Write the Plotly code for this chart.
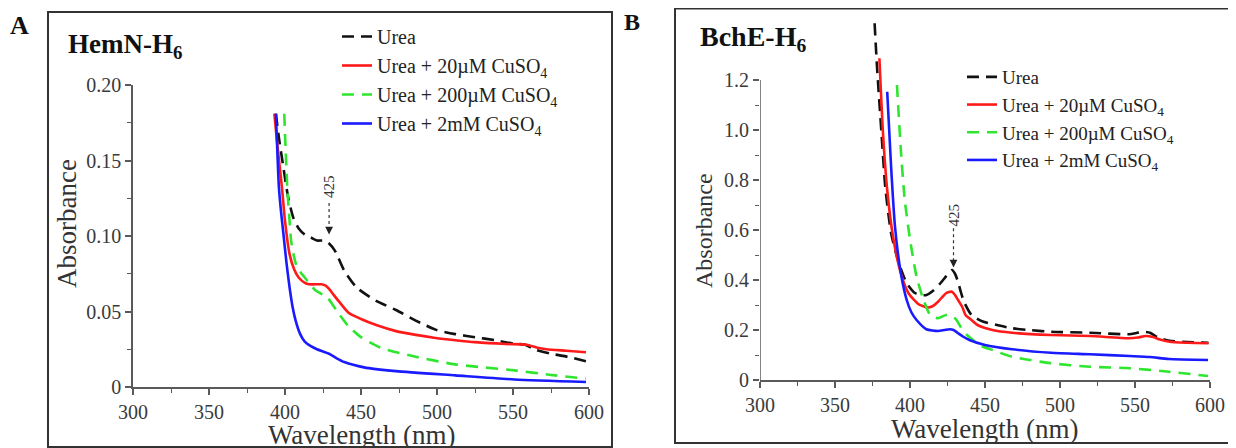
import plotly.graph_objects as go

# ---------------- Panel A : HemN-H6 ----------------
wlA_urea = [394, 396, 399, 402, 405.5, 409, 413, 417, 421, 426, 429, 433, 439, 447, 460, 473, 486, 499, 512, 525, 538, 551, 558, 564, 575, 586, 598]
absA_urea = [0.181, 0.165, 0.145, 0.126, 0.112, 0.105, 0.101, 0.099, 0.097, 0.097, 0.095, 0.090, 0.077, 0.066, 0.057, 0.051, 0.044, 0.038, 0.035, 0.033, 0.031, 0.0286, 0.028, 0.025, 0.022, 0.020, 0.017]

wlA_20uM = [393, 395, 398, 400, 403, 406, 409, 413, 416, 420, 424, 427, 429, 432, 436, 442, 450, 460, 473, 486, 499, 512, 525, 545, 559, 566, 572, 585, 598]
absA_20uM = [0.181, 0.160, 0.132, 0.110, 0.088, 0.078, 0.0725, 0.069, 0.068, 0.068, 0.068, 0.067, 0.065, 0.061, 0.056, 0.049, 0.045, 0.041, 0.037, 0.0345, 0.0325, 0.031, 0.0297, 0.0285, 0.028, 0.026, 0.025, 0.024, 0.023]

wlA_200uM = [399.5, 400.5, 401.5, 403, 404, 406, 408, 413, 420, 425, 428, 431, 434, 438, 442, 450, 463, 486, 512, 551, 575, 598]
absA_200uM = [0.181, 0.155, 0.132, 0.110, 0.097, 0.086, 0.079, 0.0725, 0.064, 0.061, 0.059, 0.055, 0.0505, 0.045, 0.040, 0.033, 0.026, 0.020, 0.015, 0.011, 0.008, 0.0055]

wlA_2mM = [394, 395, 396, 397.5, 399, 401, 403, 405, 407, 410, 413, 417, 421, 425, 429, 434, 439, 452, 473, 512, 551, 598]
absA_2mM = [0.181, 0.155, 0.132, 0.115, 0.101, 0.082, 0.066, 0.053, 0.044, 0.035, 0.030, 0.027, 0.025, 0.0235, 0.022, 0.019, 0.0165, 0.013, 0.0105, 0.0077, 0.005, 0.0033]

# ---------------- Panel B : BchE-H6 ----------------
wlB_urea = [376.4, 378, 381, 383.5, 387.4, 392.6, 397.8, 403, 407, 411, 416, 420, 423, 426, 428, 430, 432, 434, 436, 441, 449, 458, 468, 481, 494, 520, 546, 551, 555, 560, 565, 573, 585, 599]
absB_urea = [1.427, 1.253, 0.987, 0.773, 0.587, 0.467, 0.387, 0.349, 0.340, 0.340, 0.360, 0.385, 0.407, 0.430, 0.440, 0.425, 0.393, 0.350, 0.313, 0.260, 0.233, 0.220, 0.207, 0.199, 0.193, 0.189, 0.183, 0.188, 0.193, 0.189, 0.171, 0.157, 0.152, 0.149]

wlB_20uM = [379.6, 382, 384.8, 388.7, 393.9, 399, 405.7, 412, 415, 418.7, 422, 424, 426, 428, 430, 432, 435, 437, 441, 445, 455, 468, 494, 520, 546, 552, 557, 562, 566, 573, 585, 599]
absB_20uM = [1.287, 0.987, 0.76, 0.573, 0.427, 0.347, 0.303, 0.29, 0.295, 0.313, 0.335, 0.347, 0.352, 0.353, 0.34, 0.32, 0.29, 0.26, 0.24, 0.22, 0.2, 0.189, 0.18, 0.176, 0.167, 0.17, 0.176, 0.172, 0.163, 0.153, 0.149, 0.147]

wlB_200uM = [391.3, 393.9, 396.5, 400.4, 404.4, 408.3, 413.5, 418.7, 424, 428, 431, 434.3, 438, 442, 448, 455, 468, 494, 520, 546.5, 572.6, 598.7]
absB_200uM = [1.18, 0.92, 0.72, 0.547, 0.413, 0.333, 0.26, 0.247, 0.26, 0.258, 0.24, 0.207, 0.18, 0.16, 0.135, 0.12, 0.093, 0.067, 0.053, 0.047, 0.033, 0.016]

wlB_2mM = [384.8, 387.4, 390, 393.9, 397.8, 401, 404.4, 410.9, 418.7, 423, 426.5, 429, 431.7, 435, 439.6, 450, 468, 494, 520, 546.5, 560, 572.6, 598.7]
absB_2mM = [1.153, 0.853, 0.613, 0.427, 0.32, 0.27, 0.24, 0.203, 0.196, 0.2, 0.203, 0.2, 0.189, 0.175, 0.16, 0.14, 0.123, 0.109, 0.103, 0.096, 0.092, 0.084, 0.08]

series_names = ["Urea", "Urea + 20\u00b5M CuSO<sub>4</sub>", "Urea + 200\u00b5M CuSO<sub>4</sub>", "Urea + 2mM CuSO<sub>4</sub>"]
series_colors = ["#111111", "#ff1a1a", "#2ee62e", "#1a1aff"]
series_dash = ["12px,7px", "solid", "12px,8px", "solid"]

xticks = [300, 350, 400, 450, 500, 550, 600]
yticksA = [0, 0.05, 0.10, 0.15, 0.20]
yticktextA = ["0", "0.05", "0.10", "0.15", "0.20"]
yticksB = [0, 0.2, 0.4, 0.6, 0.8, 1.0, 1.2]
yticktextB = ["0", "0.2", "0.4", "0.6", "0.8", "1.0", "1.2"]
yminorB = [0.1, 0.3, 0.5, 0.7, 0.9, 1.1]
peak_nm = 425

# the page body has an 8px margin, so the figure is placed at (8, 8) in the window
OFF = 8
W, H = 1236 - OFF, 448 - OFF
FONT = "Liberation Serif, Times New Roman, serif"

def px(x):
    return (x - OFF) / W

def py(y):
    return 1 - (y - OFF) / H

fig = go.Figure()

dataA = [(wlA_urea, absA_urea), (wlA_20uM, absA_20uM), (wlA_200uM, absA_200uM), (wlA_2mM, absA_2mM)]
dataB = [(wlB_urea, absB_urea), (wlB_20uM, absB_20uM), (wlB_200uM, absB_200uM), (wlB_2mM, absB_2mM)]

for i, (x, y) in enumerate(dataA):
    fig.add_trace(go.Scatter(x=x, y=y, mode="lines", name=series_names[i],
                             line=dict(color=series_colors[i], width=2.6, dash=series_dash[i], shape="spline", smoothing=0.6),
                             xaxis="x", yaxis="y", legend="legend"))
for i, (x, y) in enumerate(dataB):
    fig.add_trace(go.Scatter(x=x, y=y, mode="lines", name=series_names[i],
                             line=dict(color=series_colors[i], width=2.6, dash=series_dash[i], shape="spline", smoothing=0.6),
                             xaxis="x2", yaxis="y2", legend="legend2"))

axis_col = "#5a5a5a"
tickfont = dict(family=FONT, size=20, color="#3a3a3a")

common_x = dict(range=[300, 600], tickvals=xticks, ticks="outside", ticklen=6, tickwidth=1.5,
                tickcolor=axis_col, showline=True, linecolor=axis_col, linewidth=1.5,
                showgrid=False, zeroline=False, tickfont=tickfont, automargin=False,
                minor=dict(dtick=25, tick0=300, ticks="outside", ticklen=4, tickcolor=axis_col, tickwidth=1.2))

fig.update_layout(
    width=W, height=H, margin=dict(l=0, r=0, t=0, b=0, autoexpand=False),
    paper_bgcolor="white", plot_bgcolor="white",
    font=dict(family=FONT, color="#222222"),
    xaxis=dict(domain=[px(133), px(589)], anchor="y", **common_x),
    yaxis=dict(domain=[py(387), py(85)], anchor="x", range=[0, 0.20], automargin=False,
               tickvals=yticksA, ticktext=yticktextA, ticks="outside", ticklen=6, tickwidth=1.5,
               tickcolor=axis_col, showline=True, linecolor=axis_col, linewidth=1.5,
               showgrid=False, zeroline=False, tickfont=tickfont,
               minor=dict(dtick=0.025, tick0=0, ticks="outside", ticklen=4, tickcolor=axis_col, tickwidth=1.2)),
    xaxis2=dict(domain=[px(760), px(1210)], anchor="y2", **common_x),
    yaxis2=dict(domain=[py(380), py(17.5)], anchor="x2", range=[0, 1.45], automargin=False,
                tickvals=yticksB, ticktext=yticktextB, ticks="outside", ticklen=6, tickwidth=1.5,
                tickcolor=axis_col, showline=False,
                showgrid=False, zeroline=False, tickfont=tickfont,
                minor=dict(tickvals=yminorB, ticks="outside", ticklen=4, tickcolor=axis_col, tickwidth=1.2)),
    legend=dict(x=px(337), y=py(17), xanchor="left", yanchor="top", bgcolor="rgba(0,0,0,0)",
                font=dict(family=FONT, size=20, color="#222222"), tracegroupgap=0, itemwidth=30),
    legend2=dict(x=px(962), y=py(58), xanchor="left", yanchor="top", bgcolor="rgba(0,0,0,0)",
                 font=dict(family=FONT, size=19, color="#222222"), tracegroupgap=0, itemwidth=30),
    showlegend=True,
)

# axis titles
title_font_x = dict(family=FONT, size=27, color="#333333")
fig.add_annotation(text="Wavelength (nm)", xref="paper", yref="paper", x=px(362), y=py(435),
                   xanchor="center", yanchor="middle", showarrow=False, font=title_font_x)
fig.add_annotation(text="Wavelength (nm)", xref="paper", yref="paper", x=px(985), y=py(429),
                   xanchor="center", yanchor="middle", showarrow=False, font=title_font_x)
fig.add_annotation(text="Absorbance", xref="paper", yref="paper", x=px(67), y=py(224), textangle=-90,
                   xanchor="center", yanchor="middle", showarrow=False,
                   font=dict(family=FONT, size=27, color="#333333"))
fig.add_annotation(text="Absorbance", xref="paper", yref="paper", x=px(704), y=py(231), textangle=-90,
                   xanchor="center", yanchor="middle", showarrow=False,
                   font=dict(family=FONT, size=24, color="#333333"))

# y-axis line of panel B only up to 1.2
fig.add_shape(type="line", xref="x2", yref="y2", x0=300, x1=300, y0=0, y1=1.2,
              line=dict(color=axis_col, width=1.5))

# panel frames
fig.add_shape(type="rect", xref="paper", yref="paper", x0=px(48), x1=px(612), y0=py(447), y1=py(12),
              line=dict(color="#333333", width=2))
fig.add_shape(type="rect", xref="paper", yref="paper", x0=px(675), x1=px(1233), y0=py(443), y1=py(8.5),
              line=dict(color="#333333", width=2))

# panel letters and titles
fig.add_annotation(text="<b>A</b>", xref="paper", yref="paper", x=px(20), y=py(26), showarrow=False,
                   xanchor="center", yanchor="middle", font=dict(family=FONT, size=26, color="#111111"))
fig.add_annotation(text="<b>B</b>", xref="paper", yref="paper", x=px(632), y=py(22), showarrow=False,
                   xanchor="center", yanchor="middle", font=dict(family=FONT, size=24, color="#111111"))
fig.add_annotation(text="<b>HemN-H<sub>6</sub></b>", xref="paper", yref="paper", x=px(66), y=py(46),
                   xanchor="left", yanchor="middle", showarrow=False, font=dict(family=FONT, size=27, color="#111111"))
fig.add_annotation(text="<b>BchE-H<sub>6</sub></b>", xref="paper", yref="paper", x=px(698), y=py(39),
                   xanchor="left", yanchor="middle", showarrow=False, font=dict(family=FONT, size=28, color="#111111"))

# 425 nm markers
for xr, yr, ytxt, ytop, ybot, ytip in [("x", "y", 0.1325, 0.123, 0.108, 0.101),
                                        ("x2", "y2", 0.66, 0.61, 0.475, 0.45)]:
    fig.add_annotation(text=str(peak_nm), xref=xr, yref=yr, x=peak_nm + 4, y=ytxt, showarrow=False,
                       xanchor="center", yanchor="middle",
                       textangle=-90, font=dict(family=FONT, size=15, color="#333333"))
    fig.add_shape(type="line", xref=xr, yref=yr, x0=peak_nm + 4, x1=peak_nm + 4, y0=ybot, y1=ytop,
                  line=dict(color="#333333", width=1.2, dash="dot"))
    fig.add_annotation(text="", xref=xr, yref=yr, x=peak_nm + 4, y=ytip, ax=0, ay=-9,
                       showarrow=True, arrowhead=2, arrowsize=1.3, arrowwidth=1.2, arrowcolor="#222222")

fig.write_html("out.html")
